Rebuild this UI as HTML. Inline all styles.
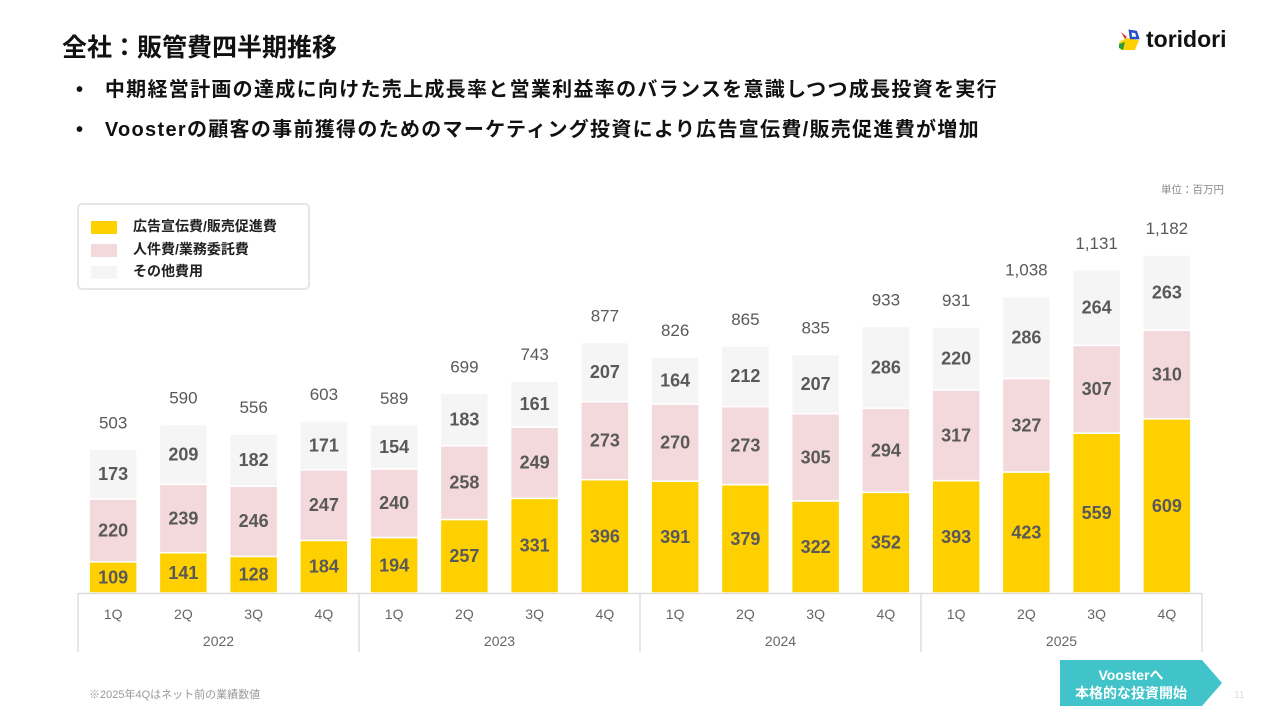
<!DOCTYPE html>
<html><head><meta charset="utf-8"><style>
body{margin:0;width:1280px;height:720px;background:#fff;font-family:"Liberation Sans","Noto Sans CJK JP",sans-serif;position:relative;overflow:hidden}
.abs{position:absolute}
</style></head><body>
<div class="abs" style="left:62px;top:28px;font-size:25px;font-weight:bold;color:#111">全社：販管費四半期推移</div>
<div class="abs" style="left:1117px;top:26px;display:flex;align-items:center">
<svg width="24" height="24" viewBox="0 0 24 24"><path d="M2 14 L10 10 L22 12 L18 22 L4 22Z" fill="#ffd000"/><path d="M2 16 L8 14 L6 22 L2 20Z" fill="#2a9d3a"/><path d="M4 4 L10 9 L8 11Z" fill="#e03030"/><path d="M13 3 L19 4 L21 10 L14 10Z" fill="none" stroke="#2350c8" stroke-width="2.5"/></svg>
<span style="font-size:23px;font-weight:bold;color:#111;margin-left:5px">toridori</span></div>
<div class="abs" style="left:76px;top:73px;font-size:20px;letter-spacing:1.3px;font-weight:bold;color:#111;white-space:nowrap">•&nbsp;&nbsp;&nbsp;中期経営計画の達成に向けた売上成長率と営業利益率のバランスを意識しつつ成長投資を実行</div>
<div class="abs" style="left:76px;top:113px;font-size:20px;letter-spacing:1.3px;font-weight:bold;color:#111;white-space:nowrap">•&nbsp;&nbsp;&nbsp;Voosterの顧客の事前獲得のためのマーケティング投資により広告宣伝費/販売促進費が増加</div>
<div class="abs" style="right:56px;top:182px;font-size:10.5px;color:#888">単位：百万円</div>
<div class="abs" style="left:77px;top:203px;width:233px;height:87px;border:2px solid #e6e6e6;border-radius:5px;box-sizing:border-box;font-size:14px;font-weight:bold;color:#222">
<div style="position:absolute;left:12px;top:11px"><span style="display:inline-block;width:26px;height:13px;background:#ffd000;vertical-align:middle;margin-right:16px"></span>広告宣伝費/販売促進費</div>
<div style="position:absolute;left:12px;top:34px"><span style="display:inline-block;width:26px;height:13px;background:#f3d9dc;vertical-align:middle;margin-right:16px"></span>人件費/業務委託費</div>
<div style="position:absolute;left:12px;top:56px"><span style="display:inline-block;width:26px;height:13px;background:#f5f5f5;vertical-align:middle;margin-right:16px"></span>その他費用</div>
</div>
<svg class="abs" style="left:0;top:0" width="1280" height="720" id="chart"></svg>
<div class="abs" style="left:89px;top:686px;font-size:11px;color:#999">※2025年4Qはネット前の業績数値</div>
<svg class="abs" style="left:1060px;top:660px" width="164" height="47"><polygon points="0,0 142,0 162,23 142,46 0,46" fill="#40c4c9"/>
<text x="71" y="20" text-anchor="middle" font-size="14" font-weight="bold" fill="#fff">Voosterへ</text>
<text x="71" y="38" text-anchor="middle" font-size="14" font-weight="bold" fill="#fff">本格的な投資開始</text></svg>
<div class="abs" style="left:1234px;top:690px;font-size:10px;color:#ddd">11</div>
<script>
const quarters=["1Q","2Q","3Q","4Q","1Q","2Q","3Q","4Q","1Q","2Q","3Q","4Q","1Q","2Q","3Q","4Q"];
const years=["2022","2023","2024","2025"];
const adValues=[109,141,128,184,194,257,331,396,391,379,322,352,393,423,559,609];
const personnelValues=[220,239,246,247,240,258,249,273,270,273,305,294,317,327,307,310];
const otherValues=[173,209,182,171,154,183,161,207,164,212,207,286,220,286,264,263];
const totalLabels=["503","590","556","603","589","699","743","877","826","865","835","933","931","1,038","1,131","1,182"];
const svg=document.getElementById('chart');const NS="http://www.w3.org/2000/svg";
const x0=78,slot=70.25,base=593,k=0.286,bw=48;
const xs=i=>x0+slot*(i+0.5);const ys=v=>base-v*k;
function mk(t,a){const e=document.createElementNS(NS,t);for(const n in a)e.setAttribute(n,a[n]);svg.appendChild(e);return e;}
const series=[[adValues,"#ffd000","ad"],[personnelValues,"#f3d9dc","personnel"],[otherValues,"#f5f5f5","other"]];
quarters.forEach((q,i)=>{let cum=0;
series.forEach(([arr,col,nm])=>{const v=arr[i];
const r=mk('rect',{x:xs(i)-bw/2,y:ys(cum+v),width:bw,height:v*k,fill:col,stroke:"#fff","stroke-width":1.5});


const t=mk('text',{x:xs(i),y:ys(cum+v/2)+6,"text-anchor":"middle","font-size":18,"font-weight":"bold",fill:"#595959"});
t.textContent=v;


cum+=v;});
const tt=mk('text',{x:xs(i),y:ys(cum)-21,"text-anchor":"middle","font-size":17,fill:"#595959"});
tt.textContent=totalLabels[i];


const ql=mk('text',{x:xs(i),y:619,"text-anchor":"middle","font-size":14,fill:"#666"});
ql.textContent=q;


});
const ax=mk('line',{x1:x0,x2:x0+slot*16,y1:base+0.5,y2:base+0.5,stroke:"#ddd","stroke-width":1.5});


for(let g=0;g<=4;g++){const d=mk('line',{x1:x0+slot*4*g,x2:x0+slot*4*g,y1:base,y2:652,stroke:"#ddd","stroke-width":1.5});

}
years.forEach((y,g)=>{const t=mk('text',{x:x0+slot*(4*g+2),y:646,"text-anchor":"middle","font-size":14,fill:"#666"});
t.textContent=y;

});
</script>
</body></html>
